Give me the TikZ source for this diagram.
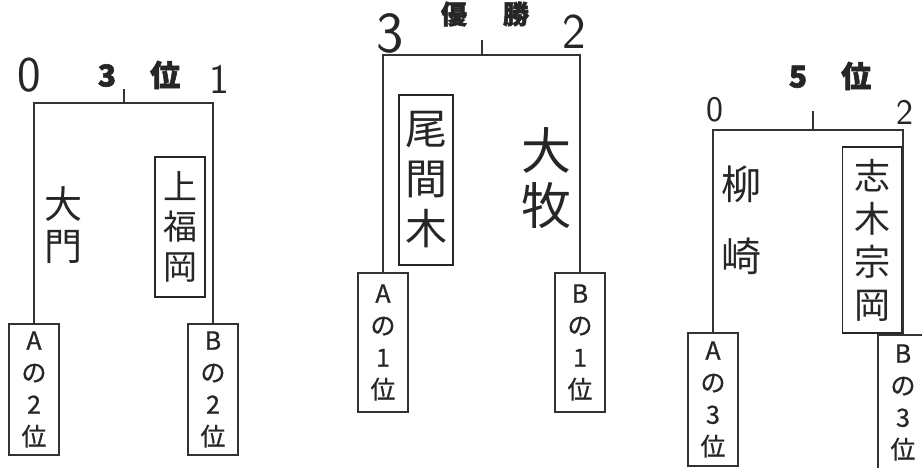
\documentclass[tikz,border=0pt]{standalone}
\usepackage{fontspec}
\newfontfamily\jp{Noto Sans CJK JP}[BoldFeatures={FakeBold=2}]
\newfontfamily\jpm{Noto Sans CJK JP}[FakeBold=0.8]
\begin{document}
\begin{tikzpicture}[x=1pt,y=-1pt,
  ln/.style={draw=black!80, line width=1.1pt},
  seed/.style={ln, minimum width=50pt, inner sep=0pt, align=center, text=black!85,
    font=\jpm\fontsize{25}{32}\selectfont},
  namebox/.style={draw=black!85, line width=1.1pt, inner sep=0pt, align=center, text=black!85},
  hand/.style={inner sep=0pt, align=center, text=black!85},
  score/.style={inner sep=0pt, text=black!85, font=\sffamily},
  title/.style={inner sep=0pt, text=black!85, font=\jp\bfseries\fontsize{30}{30}\selectfont}]
\useasboundingbox[fill=white] (0,0) rectangle (922,468);

% seed boxes
\node[seed, minimum height=131pt] (a1) at (34,389.5) {A\\の\\2\\位};
\node[seed, minimum height=131pt] (b1) at (213,389.5) {B\\の\\2\\位};
\node[seed, minimum height=139pt] (a2) at (383,342.5) {A\\の\\1\\位};
\node[seed, minimum height=139pt] (b2) at (580,342.5) {B\\の\\1\\位};
\node[seed, minimum height=133pt] (a3) at (713,399.5) {A\\の\\3\\位};
\node[seed, minimum height=135pt] (b3) at (903,402.5) {B\\の\\3\\位};

% bracket tops and ticks
\coordinate (t1) at (124,103); \coordinate (k1) at (124,89);
\coordinate (t2) at (482,55);  \coordinate (k2) at (482,40);
\coordinate (t3) at (813,130); \coordinate (k3) at (813,111);

\draw[ln] (a1.north) |- (t1) -| (b1.north);
\draw[ln] (t1) -- (k1);
\draw[ln] (a2.north) |- (t2) -| (b2.north);
\draw[ln] (t2) -- (k2);
\draw[ln] (a3.north) |- (t3) -| (b3.north);
\draw[ln] (t3) -- (k3);

% titles
\node[title] (ttl1) at (139,75) {3\hspace{34pt}位};
\node[title, font=\jp\bfseries\fontsize{26}{26}\selectfont] (ttl2) at (485,14) {優\hspace{36pt}勝};
\node[title] (ttl3) at (830,76) {5\hspace{34pt}位};

% scores
\node[score, font=\sffamily\fontsize{50}{50}\selectfont] (s1a) at (29,75) {0};
\node[score, font=\sffamily\fontsize{42}{42}\selectfont] (s1b) at (219,79) {1};
\node[score, font=\sffamily\fontsize{58}{58}\selectfont] (s2a) at (390,33) {3};
\node[score, font=\sffamily\fontsize{50}{50}\selectfont] (s2b) at (574,32) {2};
\node[score, font=\sffamily\fontsize{36}{36}\selectfont] (s3a) at (715,110) {0};
\node[score, font=\sffamily\fontsize{36}{36}\selectfont] (s3b) at (905,112) {2};

% team names
\node[hand, font=\jp\fontsize{38}{42}\selectfont] (n1a) at (63,225) {大\\門};
\node[namebox, minimum width=50pt, minimum height=140pt, font=\jp\fontsize{34}{40}\selectfont] (n1b) at (180,227) {上\\福\\岡};
\node[namebox, minimum width=54pt, minimum height=170pt, font=\jp\fontsize{42}{50}\selectfont] (n2a) at (426,180) {尾\\間\\木};
\node[hand, font=\jp\fontsize{50}{55}\selectfont] (n2b) at (546,178) {大\\牧};
\node[hand, font=\jp\fontsize{40}{72}\selectfont] (n3a) at (741,220) {柳\\崎};
\node[namebox, minimum width=59pt, minimum height=186pt, font=\jp\fontsize{36}{43}\selectfont] (n3b) at (872,240) {志\\木\\宗\\岡};
\end{tikzpicture}
\end{document}
